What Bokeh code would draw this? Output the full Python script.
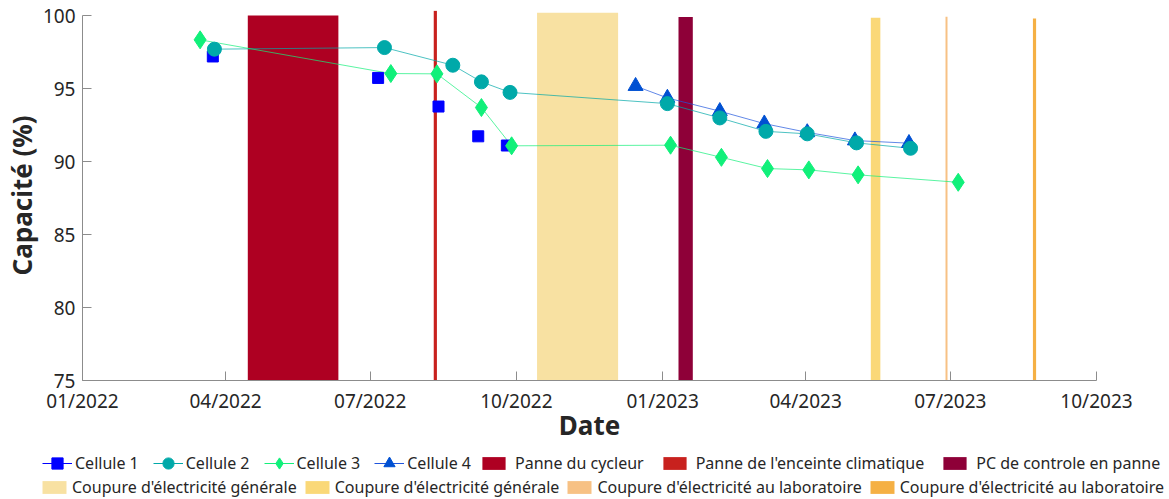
import numpy as np
import pandas as pd
from bokeh.plotting import figure
from bokeh.layouts import column
from bokeh.models import ColumnDataSource, Legend, LegendItem, FixedTicker, Range1d
from bokeh.embed import file_html
from bokeh.resources import INLINE

FONT = "Noto Sans"
TXT = "#262626"

# ---------------- data ----------------
c1_dates = ["2022-03-24", "2022-07-06", "2022-08-13", "2022-09-07", "2022-09-25"]
c1_vals = [97.2, 95.73, 93.77, 91.73, 91.10]

c2_dates = ["2022-03-25", "2022-07-10", "2022-08-22", "2022-09-09", "2022-09-27",
            "2023-01-04", "2023-02-06", "2023-03-07", "2023-04-02", "2023-05-03", "2023-06-06"]
c2_vals = [97.70, 97.81, 96.60, 95.46, 94.74, 93.97, 92.99, 92.07, 91.90, 91.28, 90.91]

c3_dates = ["2022-03-16", "2022-07-14", "2022-08-12", "2022-09-09", "2022-09-28",
            "2023-01-06", "2023-02-07", "2023-03-08", "2023-04-03", "2023-05-04", "2023-07-06"]
c3_vals = [98.34, 96.03, 96.01, 93.70, 91.08, 91.12, 90.29, 89.52, 89.43, 89.09, 88.58]

c4_dates = ["2022-12-15", "2023-01-04", "2023-02-06", "2023-03-06", "2023-04-02", "2023-05-02", "2023-06-05"]
c4_vals = [95.17, 94.36, 93.45, 92.60, 92.00, 91.44, 91.26]

series_labels = ["Cellule 1", "Cellule 2", "Cellule 3", "Cellule 4"]

band_labels = ["Panne du cycleur", "Panne de l'enceinte climatique", "PC de controle en panne",
               "Coupure d'électricité générale", "Coupure d'électricité générale",
               "Coupure d'électricité au laboratoire", "Coupure d'électricité au laboratoire"]
band_start = ["2022-04-15 00:00", "2022-08-10 00:00", "2023-01-11 00:00", "2022-10-14 00:00",
              "2023-05-12 00:00", "2023-06-28 00:00", "2023-08-22 00:00"]
band_end = ["2022-06-11 00:00", "2022-08-12 00:00", "2023-01-20 00:00", "2022-12-04 00:00",
            "2023-05-18 00:00", "2023-06-29 06:00", "2023-08-24 00:00"]
band_bottom = [75, 75, 75, 75, 75, 75, 75]
band_top = [100.0, 100.33, 99.9, 100.2, 99.86, 99.93, 99.8]
band_colors = ["#AE0022", "#C8211E", "#8E0038", "#F8E1A2", "#FAD878", "#F7C184", "#F5B044"]

x_tick_dates = ["2022-01-01", "2022-04-01", "2022-07-01", "2022-10-01",
                "2023-01-01", "2023-04-01", "2023-07-01", "2023-10-01"]
x_tick_labels = ["01/2022", "04/2022", "07/2022", "10/2022",
                 "01/2023", "04/2023", "07/2023", "10/2023"]
y_ticks = [75, 80, 85, 90, 95, 100]

# styles
line_colors = ["#0000FF", "#00A8A8", "#14F07A", "#1F55DD"]
marker_colors = ["#0000FF", "#00A9A9", "#11F07A", "#0050D2"]
markers = ["square", "circle", "diamond", "triangle"]
marker_sizes = [11, 14, 18, 15]


def dt(dates):
    return pd.to_datetime(dates, format="mixed")


def ms(dates):
    return [float(v) for v in (dt(dates).astype("int64") // 10**6)]


x_start = pd.Timestamp(x_tick_dates[0])
x_end = pd.Timestamp(x_tick_dates[-1])

p = figure(width=1169, height=450, x_axis_type="datetime",
           output_backend="svg", toolbar_location=None,
           x_range=Range1d(x_start, x_end), y_range=Range1d(75, 100.35),
           min_border_left=82, min_border_right=73, min_border_top=10, min_border_bottom=70)
p.outline_line_color = None
p.grid.visible = False
p.frame_align = False

# bands
bsrc = ColumnDataSource(dict(left=dt(band_start), right=dt(band_end),
                             bottom=band_bottom, top=band_top, color=band_colors))
p.quad(left="left", right="right", bottom="bottom", top="top",
       fill_color="color", line_color=None, source=bsrc)

# series
s1 = ColumnDataSource(dict(x=dt(c1_dates), y=c1_vals))
s2 = ColumnDataSource(dict(x=dt(c2_dates), y=c2_vals))
s3 = ColumnDataSource(dict(x=dt(c3_dates), y=c3_vals))
s4 = ColumnDataSource(dict(x=dt(c4_dates), y=c4_vals))
srcs = [s1, s2, s3, s4]

# Cellule 1 has markers only; other series are joined by thin lines
for k in (1, 2, 3):
    p.line("x", "y", source=srcs[k], line_color=line_colors[k], line_width=1, line_alpha=0.7)
for k in (3, 0, 1, 2):
    p.scatter("x", "y", source=srcs[k], marker=markers[k], size=marker_sizes[k],
              fill_color=marker_colors[k], line_color=marker_colors[k])

# axes
xa = p.xaxis[0]
ya = p.yaxis[0]
xa.ticker = FixedTicker(ticks=ms(x_tick_dates))
xa.major_label_overrides = {t: lab for t, lab in zip(ms(x_tick_dates), x_tick_labels)}
xa.bounds = (ms(x_tick_dates)[0], ms(x_tick_dates)[-1])
ya.ticker = FixedTicker(ticks=y_ticks)
ya.bounds = (75, 100)
xa.axis_label = "Date"
ya.axis_label = "Capacité (%)"
for ax in (xa, ya):
    ax.axis_line_color = "#8C8C8C"
    ax.major_tick_line_color = "#8C8C8C"
    ax.major_tick_in = 9
    ax.major_tick_out = 0
    ax.minor_tick_line_color = None
    ax.major_label_text_font = FONT
    ax.major_label_text_font_size = "19px"
    ax.major_label_text_color = TXT
    ax.axis_label_text_font = FONT
    ax.axis_label_text_font_style = "bold"
    ax.axis_label_text_font_size = "26px"
    ax.axis_label_text_color = TXT
xa.major_label_standoff = 7
xa.axis_label_standoff = -10
ya.major_label_standoff = 7
ya.axis_label_standoff = 0

# ---------------- legend strip (separate figure, proxy glyphs with no data) ----------------
lf = figure(width=1169, height=49, x_range=Range1d(0, 1), y_range=Range1d(0, 1),
            output_backend="svg", toolbar_location=None, min_border=0,
            x_axis_location=None, y_axis_location=None)
lf.outline_line_color = None
lf.grid.visible = False
lf.frame_align = False

nan = [np.nan]
series_items = []
for k in range(4):
    rl = lf.line(x=nan, y=nan, line_color=line_colors[k], line_width=1)
    rm = lf.scatter(x=nan, y=nan, marker=markers[k], fill_color=marker_colors[k],
                    line_color=marker_colors[k])
    series_items.append(LegendItem(label=series_labels[k], renderers=[rl, rm]))

nb = len(band_labels)
rb = lf.quad(left=[np.nan] * nb, right=[np.nan] * nb, bottom=[np.nan] * nb, top=[np.nan] * nb,
             fill_color=band_colors, line_color=None)
band_items = [LegendItem(label=band_labels[i], renderers=[rb], index=i) for i in range(nb)]

common = dict(orientation="horizontal", padding=0, margin=0, border_line_alpha=0,
              background_fill_alpha=0, label_text_font=FONT, label_text_font_size="16px",
              label_text_color=TXT, label_height=16)

leg1a = Legend(items=series_items, location=(42, 22), glyph_width=30, glyph_height=28,
               label_standoff=3, spacing=14, **common)
leg1b = Legend(items=band_items[:3], location=(479, 25), glyph_width=29, glyph_height=16,
               label_standoff=7, spacing=16, **common)
leg2 = Legend(items=band_items[3:], location=(39, 1), glyph_width=30, glyph_height=16,
              label_standoff=3, spacing=5, **common)
for lg in (leg1a, leg1b, leg2):
    lf.add_layout(lg, "center")

layout = column(p, lf, spacing=0)
open("out.html", "w").write(file_html(layout, INLINE))
